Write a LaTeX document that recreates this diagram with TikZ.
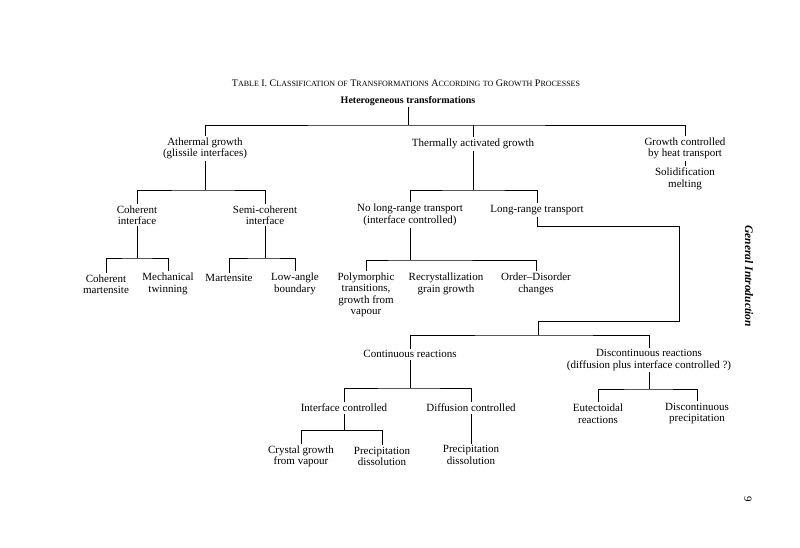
\documentclass[tikz,border=0pt]{standalone}
\usepackage{fontspec}
\setmainfont{Liberation Serif}
\tikzset{font=\fontsize{11}{11.5}\selectfont}
\newcommand{\smcap}[2]{#1{\fontsize{8}{9}\selectfont #2}}

\begin{document}
\begin{tikzpicture}[x=1pt, y=-1pt, line width=0.6pt]
	\fill[white] (0,0) rectangle (800,547);
	\useasboundingbox (0,0) rectangle (800,547);
	\begin{scope}
		\tikzstyle{every node}=[align=center, inner sep=1.5pt]
		% heading
		\node[font=\fontsize{10}{11}\selectfont] (title) at (406, 83) {\smcap{T}{ABLE} I. \smcap{C}{LASSIFICATION} {\fontsize{8}{9}\selectfont OF} \smcap{T}{RANSFORMATIONS} \smcap{A}{CCORDING} {\fontsize{8}{9}\selectfont TO} \smcap{G}{ROWTH} \smcap{P}{ROCESSES}};
		\node[font=\fontsize{10}{11}\selectfont\bfseries] (het) at (408, 101) {Heterogeneous transformations};

		% first level
		\node (ather) at (205, 148.5) {Athermal growth\\(glissile interfaces)};
		\node (therm) at (473, 144) {Thermally activated growth};
		\node (heat) at (685, 148.5) {Growth controlled\\by heat transport};
		\node (solid) at (685, 179) {Solidification\\melting};

		% second level
		\node (cohint) at (137, 215) {Coherent\\interface};
		\node (semi) at (265, 215) {Semi-coherent\\interface};
		\node (nolong) at (410, 215) {No long-range transport\\(interface controlled)};
		\node (long) at (537, 210) {Long-range transport};

		% third level
		\node (cohmart) at (106, 284) {Coherent\\martensite};
		\node (mech) at (168, 284) {Mechanical\\twinning};
		\node (mart) at (229, 278) {Martensite};
		\node (lowang) at (295, 284) {Low-angle\\boundary};
		\node (poly) at (366, 295) {Polymorphic\\transitions,\\growth from\\vapour};
		\node (recr) at (446, 284) {Recrystallization\\grain growth};
		\node (order) at (536, 284) {Order--Disorder\\changes};

		% reactions
		\node (cont) at (410, 354) {Continuous reactions};
		\node (disc) at (649, 360) {Discontinuous reactions\\(diffusion plus interface controlled ?)};
		\node (intf) at (344, 408) {Interface controlled};
		\node (diff) at (471, 408) {Diffusion controlled};
		\node (cryst) at (301, 456.5) {Crystal growth\\from vapour};
		\node (prec1) at (382, 456.5) {Precipitation\\dissolution};
		\node (prec2) at (471, 455) {Precipitation\\dissolution};
		\node (eut) at (598, 413.5) {Eutectoidal\\reactions};
		\node (dprec) at (697, 413.5) {Discontinuous\\precipitation};

		% page margin
		\node[rotate=-90, font=\fontsize{11.5}{12}\selectfont\bfseries\itshape] (side) at (749, 276) {General Introduction};
		\node[rotate=-90] (pageno) at (748, 499) {9};

		\coordinate (top) at (408, 125);
		\coordinate (athbar) at (205, 190);
		\coordinate (thbar) at (473, 190);
		\coordinate (cohbar) at (137, 258);
		\coordinate (semibar) at (265, 258);
		\coordinate (nlbar) at (410, 260);
		\coordinate (loop) at (679, 226);
		\coordinate (split) at (538, 335);
		\coordinate (contbar) at (410, 388);
		\coordinate (intbar) at (344, 430);
		\coordinate (discbar) at (649, 389);

		\draw (het) -- (het |- top);
		\draw (ather.north) |- (top) -| (heat.north);
		\draw (therm.north) -- (therm.north |- top);
		\draw (heat.south) -- (solid.north);

		\draw (ather.south) -- (athbar);
		\draw (cohint.north) |- (athbar) -| (semi.north);
		\draw (therm.south) -- (thbar);
		\draw (nolong.north) |- (thbar) -| (long.north);

		\draw (cohint.south) -- (cohbar);
		\draw (cohmart.north) |- (cohbar) -| (mech.north);
		\draw (semi.south) -- (semibar);
		\draw (mart.north) |- (semibar) -| (lowang.north);
		\draw (nolong.south) -- (nlbar);
		\draw (poly.north) |- (nlbar) -| (order.north);

		\draw (long.south) |- (loop) -- ++(0, 95) -| (split);
		\draw (cont.north) |- (split) -| (disc.north);

		\draw (cont.south) -- (contbar);
		\draw (intf.north) |- (contbar) -| (diff.north);
		\draw (intf.south) -- (intbar);
		\draw (cryst.north) |- (intbar) -| (prec1.north);
		\draw (diff.south) -- (prec2.north);
		\draw (disc.south) -- (discbar);
		\draw (eut.north) |- (discbar) -| (dprec.north);

	\end{scope}
\end{tikzpicture}
\end{document}
